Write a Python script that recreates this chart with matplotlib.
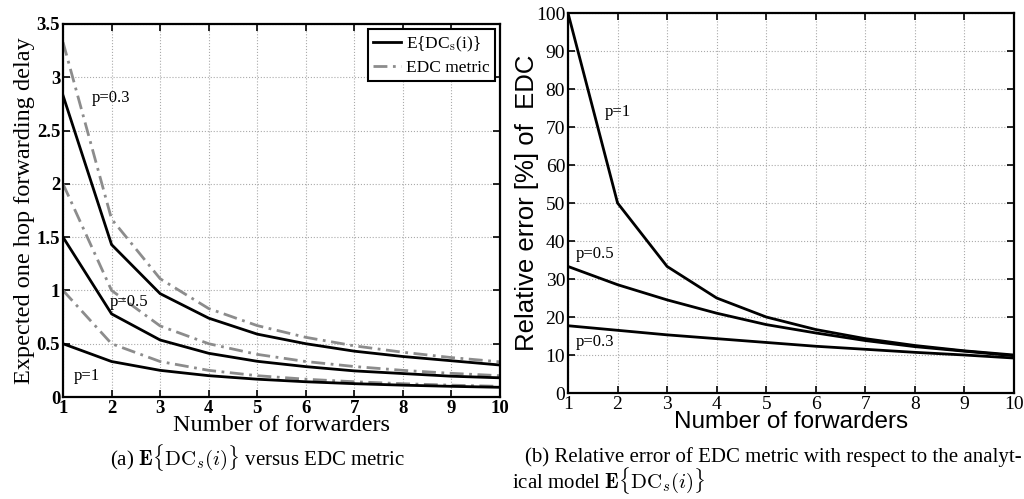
import matplotlib
matplotlib.use('Agg')
import matplotlib.pyplot as plt

plt.rcParams['mathtext.fontset'] = 'cm'

#%% data
forwarders = [1, 2, 3, 4, 5, 6, 7, 8, 9, 10]

# E{DC_s(i)} (solid) and EDC metric (dash-dot)
e_dc_p03 = [2.83, 1.43, 0.97, 0.74, 0.59, 0.50, 0.43, 0.38, 0.34, 0.30]
e_dc_p05 = [1.50, 0.78, 0.535, 0.41, 0.335, 0.285, 0.245, 0.22, 0.195, 0.18]
e_dc_p1 = [0.50, 0.333, 0.25, 0.20, 0.167, 0.143, 0.125, 0.111, 0.10, 0.091]

edc_p03 = [3.33, 1.67, 1.11, 0.83, 0.67, 0.56, 0.48, 0.42, 0.37, 0.33]
edc_p05 = [2.00, 1.00, 0.667, 0.50, 0.40, 0.333, 0.286, 0.25, 0.222, 0.20]
edc_p1 = [1.00, 0.50, 0.333, 0.25, 0.20, 0.167, 0.143, 0.125, 0.111, 0.10]

# relative error [%]
err_p1 = [100, 50, 33.3, 25, 20, 16.7, 14.3, 12.5, 11.1, 10]
err_p05 = [33.3, 28.5, 24.5, 21, 18, 15.8, 13.8, 12.2, 11, 9.8]
err_p03 = [17.7, 16.5, 15.3, 14.3, 13.3, 12.3, 11.5, 10.7, 10, 9.2]

serif = 'Liberation Serif'
sans = 'Liberation Sans'

fig = plt.figure(figsize=(10.24, 4.99), dpi=100)
W, H = 1024., 499.

#%% panel (a)
ax1 = fig.add_axes([63/W, 1-397/H, (500-63)/W, (397-24)/H])
for e, m in [(e_dc_p03, edc_p03), (e_dc_p05, edc_p05), (e_dc_p1, edc_p1)]:
    ax1.plot(forwarders, m, color='#8c8c8c', linestyle='-.', linewidth=2, dashes=(5, 2, 1, 2))
    ax1.plot(forwarders, e, color='black', linewidth=2)
h1, = ax1.plot([], [], color='black', linewidth=2, label=r'E{DC$_\mathrm{s}$(i)}')
h2, = ax1.plot([], [], color='#8c8c8c', linestyle='-.', linewidth=2, dashes=(5, 2, 1, 2), label='EDC metric')
ax1.set_xlim(1, 10)
ax1.set_ylim(0, 3.5)
ax1.set_xticks(forwarders)
ax1.set_yticks([0, 0.5, 1, 1.5, 2, 2.5, 3, 3.5])
ax1.set_yticklabels(['0', '0.5', '1', '1.5', '2', '2.5', '3', '3.5'])
for lab in ax1.get_xticklabels() + ax1.get_yticklabels():
    lab.set_fontfamily(serif)
    lab.set_fontweight('bold')
    lab.set_fontsize(13.5)
ax1.set_xlabel('Number of forwarders', fontfamily=serif, fontsize=17.5, labelpad=-1)
ax1.set_ylabel('Expected one hop forwarding delay', fontfamily=serif, fontsize=17.5, labelpad=1)
leg = ax1.legend(handles=[h1, h2], loc='upper right', prop={'family': serif, 'size': 12.5},
                 fancybox=False, edgecolor='black', framealpha=1, borderaxespad=0.3,
                 handlelength=1.6, handletextpad=0.3, borderpad=0.3, labelspacing=0.35)
leg.get_frame().set_linewidth(1.5)
ax1.text(1.6, 2.77, 'p=0.3', fontfamily=serif, fontsize=12)
ax1.text(1.97, 0.85, 'p=0.5', fontfamily=serif, fontsize=12)
ax1.text(1.22, 0.16, 'p=1', fontfamily=serif, fontsize=12)

#%% panel (b)
ax2 = fig.add_axes([568/W, 1-393/H, (1014-568)/W, (393-13)/H])
for err in [err_p1, err_p05, err_p03]:
    ax2.plot(forwarders, err, color='black', linewidth=2)
ax2.set_xlim(1, 10)
ax2.set_ylim(0, 100)
ax2.set_xticks(forwarders)
ax2.set_yticks(range(0, 101, 10))
for lab in ax2.get_xticklabels() + ax2.get_yticklabels():
    lab.set_fontfamily(serif)
    lab.set_fontsize(14)
ax2.set_xlabel('Number of forwarders', fontfamily=sans, fontsize=17.5, labelpad=-1)
ax2.set_ylabel('Relative error [%] of  EDC', fontfamily=sans, fontsize=18.5, labelpad=-2)
ax2.text(1.75, 73, 'p=1', fontfamily=serif, fontsize=12)
ax2.text(1.15, 35.5, 'p=0.5', fontfamily=serif, fontsize=12)
ax2.text(1.15, 12.5, 'p=0.3', fontfamily=serif, fontsize=12)

for ax in (ax1, ax2):
    ax.grid(True, linestyle=':', color='#aaaaaa', linewidth=0.8)
    ax.tick_params(direction='in', top=True, right=True, length=5, width=1.2, pad=2)
    for s in ax.spines.values():
        s.set_linewidth(1.6)

#%% captions
fig.text(258/W, 1-458/H, r'(a) $\mathbf{E}\{\mathrm{DC}_s(i)\}$ versus EDC metric',
         fontfamily=serif, fontsize=15, ha='center', va='center')
fig.text(525/W, 1-457/H, r'(b) Relative error of EDC metric with respect to the analyt-',
         fontfamily=serif, fontsize=15, ha='left', va='center')
fig.text(512/W, 1-481/H, r'ical model $\mathbf{E}\{\mathrm{DC}_s(i)\}$',
         fontfamily=serif, fontsize=15, ha='left', va='center')

fig.savefig('out.png', dpi=100)
